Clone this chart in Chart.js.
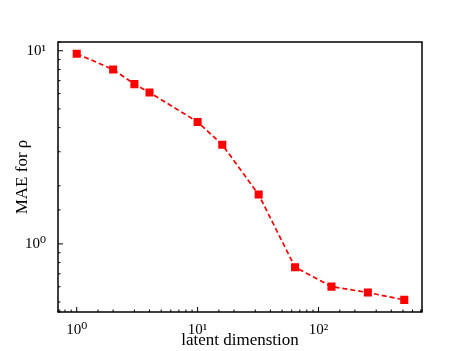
<!DOCTYPE html>
<html>
<head>
<meta charset="utf-8">
<script src="https://cdn.jsdelivr.net/npm/chart.js@4"></script>
<style>
  html, body { margin: 0; padding: 0; background: #fff; }
</style>
</head>
<body>
<canvas id="chart" width="469" height="351"></canvas>
<script>
// latent dimension vs. MAE
let dims = [1, 2, 3, 4, 10, 16, 32, 64, 128, 256, 512];
let mae = [9.65, 8.0, 6.72, 6.08, 4.28, 3.26, 1.80, 0.757, 0.601, 0.560, 0.513];
let xTickLabels = { 1: '10⁰', 10: '10¹', 100: '10²' };
let yTickLabels = { 1: '10⁰', 10: '10¹' };

let points = dims.map((d, i) => ({ x: d, y: mae[i] }));

// inward tick marks + frame, as matplotlib draws them
const frame = {
  id: 'frame',
  afterDraw(chart) {
    const ctx = chart.ctx, a = chart.chartArea;
    ctx.save();
    ctx.strokeStyle = '#000';
    ctx.lineWidth = 1;
    chart.scales.x.ticks.forEach(t => {
      const px = chart.scales.x.getPixelForValue(t.value);
      if (px < a.left || px > a.right) return;
      const len = t.major ? 5 : 2.5;
      ctx.beginPath();
      ctx.moveTo(px, a.bottom);
      ctx.lineTo(px, a.bottom - len);
      ctx.stroke();
    });
    chart.scales.y.ticks.forEach(t => {
      const py = chart.scales.y.getPixelForValue(t.value);
      if (py < a.top || py > a.bottom) return;
      const len = t.major ? 5 : 2.5;
      ctx.beginPath();
      ctx.moveTo(a.left, py);
      ctx.lineTo(a.left + len, py);
      ctx.stroke();
    });
    ctx.lineWidth = 1.5;
    ctx.strokeRect(a.left, a.top, a.right - a.left, a.bottom - a.top);
    ctx.restore();
  }
};

const serif = "'Liberation Serif', 'DejaVu Serif', serif";

new Chart(document.getElementById('chart').getContext('2d'), {
  type: 'line',
  data: {
    datasets: [{
      data: points,
      borderColor: '#ff0000',
      backgroundColor: '#ff0000',
      borderWidth: 1.7,
      borderDash: [5, 3],
      pointStyle: 'rect',
      pointRadius: 4.5,
      pointHoverRadius: 4.5,
      tension: 0,
      fill: false
    }]
  },
  options: {
    responsive: false,
    animation: false,
    devicePixelRatio: 1,
    layout: { padding: { top: 42, right: 47, left: 0, bottom: 0 } },
    plugins: { legend: { display: false }, tooltip: { enabled: false } },
    scales: {
      x: {
        type: 'logarithmic',
        min: 0.724,
        max: 718,
        grid: { display: false },
        border: { display: false },
        ticks: {
          autoSkip: false,
          maxRotation: 0,
          color: '#000',
          padding: 1,
          font: { family: serif, size: 15 },
          callback: v => xTickLabels[v] || ''
        },
        title: {
          display: true,
          text: 'latent dimenstion',
          color: '#000',
          padding: { top: 3, bottom: 0 },
          font: { family: serif, size: 17 }
        },
        afterFit(s) { s.height = 39; }
      },
      y: {
        type: 'logarithmic',
        min: 0.444,
        max: 11.1,
        grid: { display: false },
        border: { display: false },
        ticks: {
          autoSkip: false,
          color: '#000',
          padding: 4,
          font: { family: serif, size: 15 },
          callback: v => yTickLabels[v] || ''
        },
        title: {
          display: true,
          text: 'MAE for ρ',
          color: '#000',
          padding: { top: 12, bottom: 0 },
          font: { family: serif, size: 17 }
        },
        afterFit(s) { s.width = 58; }
      }
    }
  },
  plugins: [frame]
});
</script>
</body>
</html>
